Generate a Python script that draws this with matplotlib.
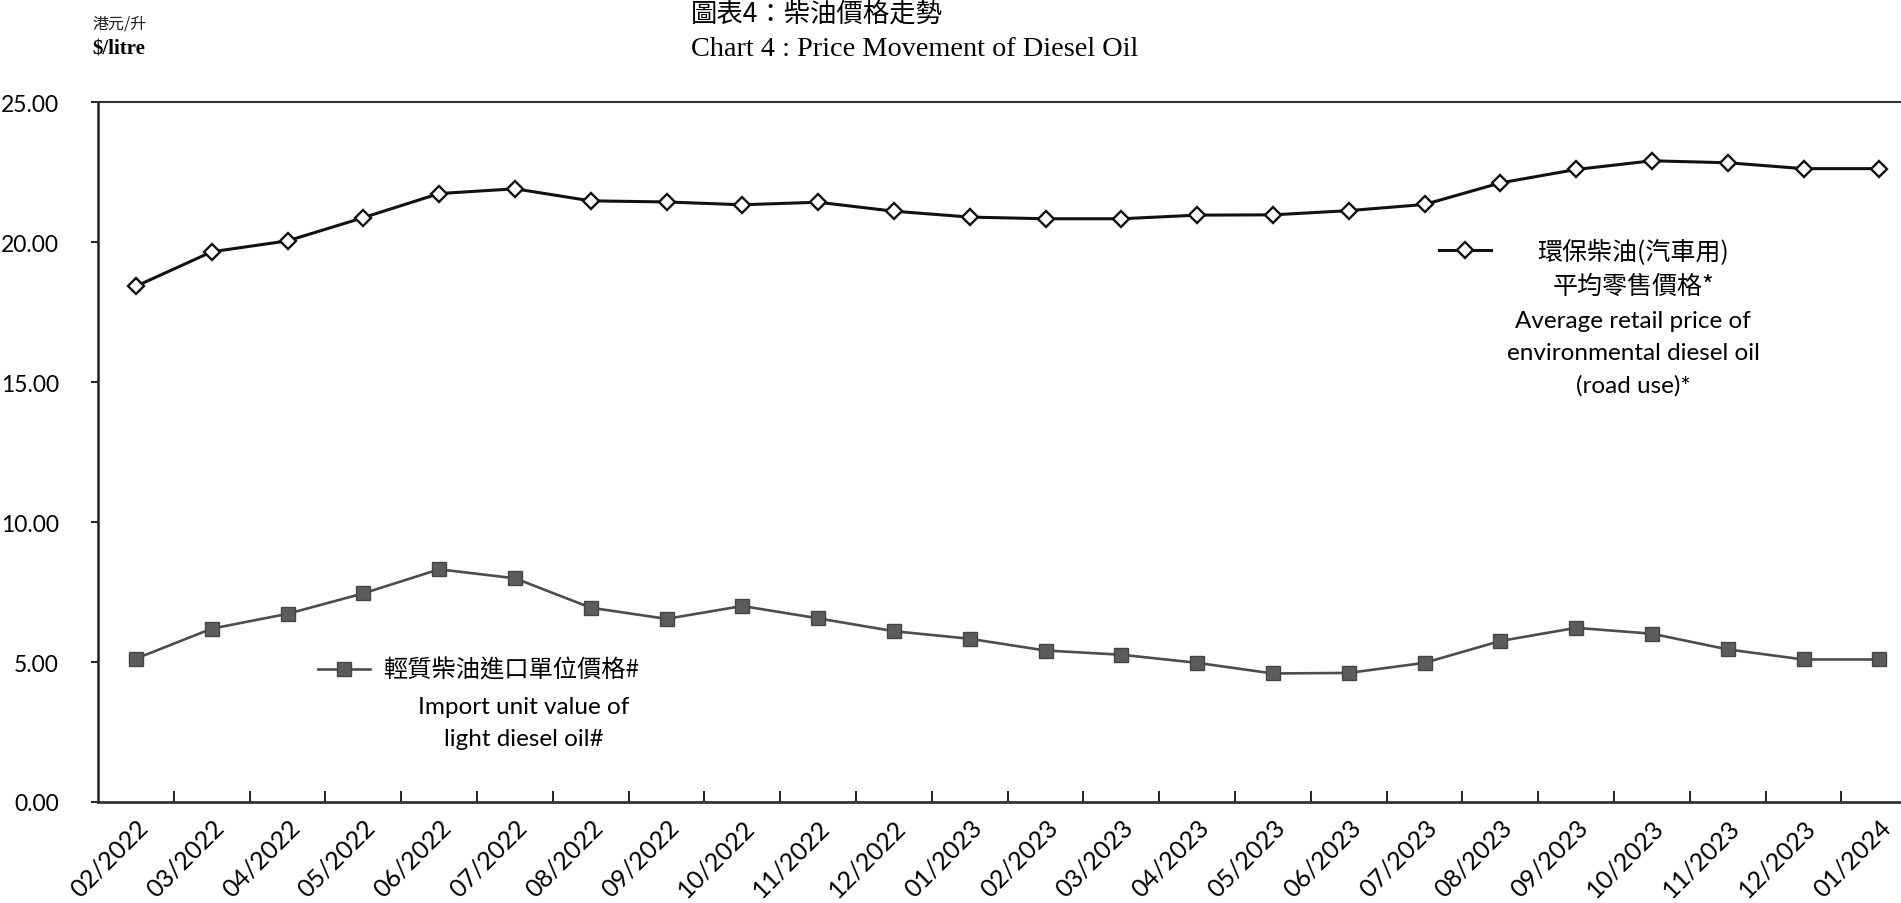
import matplotlib
matplotlib.use("Agg")
import matplotlib.pyplot as plt
from matplotlib.lines import Line2D
from matplotlib.ticker import FixedLocator

# ---------------- data ----------------
months = ["02/2022", "03/2022", "04/2022", "05/2022", "06/2022", "07/2022",
          "08/2022", "09/2022", "10/2022", "11/2022", "12/2022", "01/2023",
          "02/2023", "03/2023", "04/2023", "05/2023", "06/2023", "07/2023",
          "08/2023", "09/2023", "10/2023", "11/2023", "12/2023", "01/2024"]

retail_price = [18.42, 19.65, 20.04, 20.87, 21.73, 21.90, 21.47, 21.43, 21.33,
                21.42, 21.10, 20.89, 20.83, 20.83, 20.96, 20.97, 21.12, 21.34,
                22.11, 22.59, 22.90, 22.83, 22.62, 22.62]

import_value = [5.12, 6.19, 6.72, 7.45, 8.31, 7.99, 6.94, 6.54, 7.00, 6.56,
                6.10, 5.83, 5.41, 5.26, 4.97, 4.59, 4.61, 4.97, 5.75, 6.22,
                6.01, 5.45, 5.09, 5.09]

y_ticks = [0, 5, 10, 15, 20, 25]

retail_label = ["環保柴油(汽車用)", "平均零售價格*", "Average retail price of",
                "environmental diesel oil", "(road use)*"]
import_label_cn = "輕質柴油進口單位價格#"
import_label_en = ["Import unit value of", "light diesel oil#"]

title_cn = "圖表4：柴油價格走勢"
title_en = "Chart 4 : Price Movement of Diesel Oil"
unit_cn = "港元/升"
unit_en = "$/litre"

# ---------------- layout ----------------
W, H = 1901, 904
DPI = 100
fig = plt.figure(figsize=(W / DPI, H / DPI), dpi=DPI, facecolor="white")

def fx(px):
    return px / W

def fy(py):
    return 1 - py / H

EN = "Lato"
CJK = "Noto Sans CJK TC"
SERIF = "Liberation Serif"

ax_left, ax_top, ax_bottom = 98, 103, 803
cat_w = 75.8
ax = fig.add_axes([fx(ax_left), fy(ax_bottom), 1 - fx(ax_left),
                   (ax_bottom - ax_top) / H])
ax.set_facecolor("white")

x = list(range(len(months)))
ax.set_xlim(-0.5, -0.5 + (W - ax_left) / cat_w)
ax.set_ylim(0, 25)

ax.plot(x, retail_price, color="#111111", lw=2.2, marker="D", markersize=8.0,
        markerfacecolor="white", markeredgecolor="#111111", markeredgewidth=1.7,
        zorder=3)
ax.plot(x, import_value, color="#4d4d4d", lw=1.9, marker="s", markersize=10.5,
        markerfacecolor="#5c5c5c", markeredgecolor="#444444", markeredgewidth=1.0,
        zorder=3)

# spines
ax.spines["right"].set_visible(False)
ax.spines["left"].set_linewidth(1.8)
ax.spines["left"].set_color("#222222")
ax.spines["bottom"].set_linewidth(2.0)
ax.spines["bottom"].set_color("#333333")
ax.spines["top"].set_linewidth(1.5)
ax.spines["top"].set_color("#333333")

# y axis
ax.set_yticks(y_ticks)
ax.set_yticklabels([f"{v:.2f}" for v in y_ticks], fontfamily=EN, fontsize=16.5)
ax.tick_params(axis="y", direction="out", length=5, width=1.4, pad=23,
               colors="#222222", labelcolor="black")

# x axis: labels at centres, tick marks at category boundaries
ax.set_xticks(x)
ax.set_xticklabels(months, fontfamily=EN, fontsize=18, rotation=45,
                   ha="right", rotation_mode="anchor")
ax.tick_params(axis="x", which="major", length=0, pad=9)
ax.xaxis.set_minor_locator(FixedLocator([i + 0.5 for i in range(len(months) - 1)]))
ax.tick_params(axis="x", which="minor", direction="in", length=8, width=1.4,
               colors="#222222")
for lbl in ax.get_xticklabels():
    lbl.set_va("top")

# ---------------- titles ----------------
fig.text(fx(691), fy(1), title_cn, fontfamily=CJK, fontsize=19,
         ha="left", va="top")
fig.text(fx(691), fy(50), title_en, fontfamily=SERIF, fontsize=20.3,
         ha="left", va="center")
fig.text(fx(92), fy(24), unit_cn, fontfamily=CJK, fontsize=11.5,
         ha="left", va="center", color="#222222")
fig.text(fx(92), fy(50), unit_en, fontfamily=SERIF, fontsize=15,
         ha="left", va="center", fontweight="bold")

# ---------------- legend keys & labels ----------------
fig.add_artist(Line2D([fx(1439), fx(1491)], [fy(251), fy(251)], color="#111111",
                      lw=2.2, transform=fig.transFigure))
fig.add_artist(Line2D([fx(1465)], [fy(251)], marker="D", markersize=8.0,
                      markerfacecolor="white", markeredgecolor="#111111",
                      markeredgewidth=1.7, transform=fig.transFigure))
ys = [253, 287, 321, 354, 386]
for i, (t, yy) in enumerate(zip(retail_label, ys)):
    fam = CJK if i < 2 else EN
    fs = 18 if i < 2 else 17.5
    fig.text(fx(1633), fy(yy), t, fontfamily=fam, fontsize=fs,
             ha="center", va="center")

fig.add_artist(Line2D([fx(318), fx(370)], [fy(670), fy(670)], color="#4d4d4d",
                      lw=1.9, transform=fig.transFigure))
fig.add_artist(Line2D([fx(344)], [fy(670)], marker="s", markersize=10.5,
                      markerfacecolor="#5c5c5c", markeredgecolor="#444444",
                      markeredgewidth=1.0, transform=fig.transFigure))
fig.text(fx(383), fy(670), import_label_cn, fontfamily=CJK, fontsize=17.5,
         ha="left", va="center")
for t, yy in zip(import_label_en, [708, 740]):
    fig.text(fx(524), fy(yy), t, fontfamily=EN, fontsize=17.5,
             ha="center", va="center")

fig.savefig("out.png", dpi=DPI, facecolor="white")
